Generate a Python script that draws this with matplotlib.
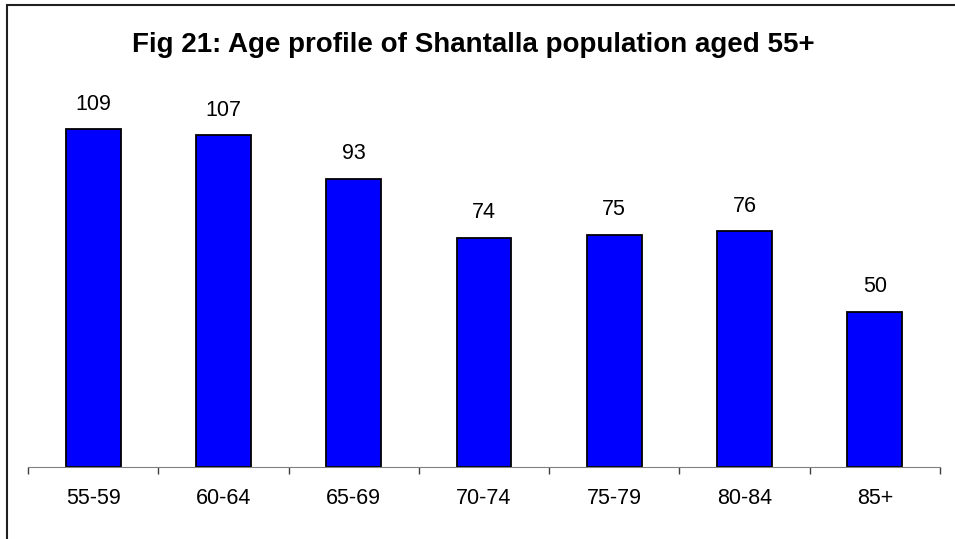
import matplotlib.pyplot as plt
from matplotlib.patches import Rectangle

age_groups = ['55-59', '60-64', '65-69', '70-74', '75-79', '80-84', '85+']
counts = [109, 107, 93, 74, 75, 76, 50]

plt.rcParams['font.family'] = ['Liberation Sans', 'DejaVu Sans']

fig = plt.figure(figsize=(9.55, 5.39), dpi=100)
ax = fig.add_axes([28 / 955, 1 - 467 / 539, 912 / 955, 372 / 539])

x = range(len(age_groups))
bars = ax.bar(x, counts, width=0.42, color='#0000FF', edgecolor='black', linewidth=1.3)

# value labels above bars
for xi, v in zip(x, counts):
    ax.annotate(str(v), (xi, v), xytext=(0, 10.5), textcoords='offset points',
                ha='center', va='bottom', fontsize=15.5)

ax.set_xlim(-0.5, len(age_groups) - 0.5)
ax.set_ylim(0, 120)
ax.set_yticks([])
for side in ['left', 'right', 'top']:
    ax.spines[side].set_visible(False)
ax.spines['bottom'].set_color('#808080')

ax.set_xticks(list(x))
ax.set_xticklabels(age_groups, fontsize=15.5)
ax.tick_params(axis='x', which='major', length=0, pad=15)
ax.set_xticks([i - 0.5 for i in range(len(age_groups) + 1)], minor=True)
ax.tick_params(axis='x', which='minor', length=5, color='#404040', width=1)

fig.text(0.496, 1 - 45 / 539, 'Fig 21: Age profile of Shantalla population aged 55+',
         ha='center', va='center', fontsize=20, fontweight='bold')

# outer frame (only top and left visible in the reference)
fig.patches.append(Rectangle((7 / 955, -0.1), 1.2, 1 - 5 / 539 + 0.1,
                             transform=fig.transFigure, fill=False,
                             edgecolor='#202020', linewidth=1.5))

plt.savefig('out.png', dpi=100)
